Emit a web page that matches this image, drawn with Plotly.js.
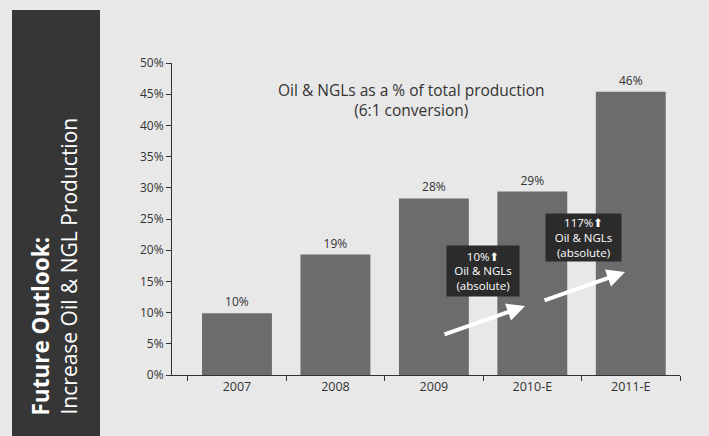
<!DOCTYPE html>
<html>
<head>
<meta charset="utf-8">
<script src="https://cdn.plot.ly/plotly-3.0.1.min.js"></script>
<style>html,body{margin:0;padding:0;background:#e9e9e9;}#chart{width:709px;height:436px;}</style>
</head>
<body>
<div id="chart"></div>
<script>
// Data
const categories = ["2007", "2008", "2009", "2010-E", "2011-E"];
const oilNglShare = [9.9, 19.3, 28.3, 29.4, 45.4];
const barLabels = ["10%", "19%", "28%", "29%", "46%"];
const yTickVals = [0, 5, 10, 15, 20, 25, 30, 35, 40, 45, 50];
const yTickText = ["0%", "5%", "10%", "15%", "20%", "25%", "30%", "35%", "40%", "45%", "50%"];
const chartTitle = "Oil &amp; NGLs as a % of total production<br>(6:1 conversion)";
const sideTitle = "Future Outlook:";
const sideSubtitle = "Increase Oil &amp; NGL Production";
const callout2010 = "10%\u2B06<br>Oil &amp; NGLs<br>(absolute)";
const callout2011 = "117%\u2B06<br>Oil &amp; NGLs<br>(absolute)";

const font = "Open Sans, DejaVu Sans, sans-serif";

const trace = {
  type: "bar",
  x: categories,
  y: oilNglShare,
  text: barLabels,
  textposition: "outside",
  cliponaxis: false,
  textfont: {family: font, size: 12, color: "#333"},
  marker: {color: "#6c6c6c"},
  hoverinfo: "skip"
};

function px(x) { return (x - 172) / 508; }
function py(y) { return (375 - y) / 312; }

const layout = {
  width: 709, height: 436,
  margin: {l: 172, r: 29, t: 63, b: 61},
  paper_bgcolor: "#e8e8e8",
  plot_bgcolor: "#e8e8e8",
  bargap: 0.29,
  showlegend: false,
  font: {family: font, color: "#333"},
  xaxis: {
    type: "category",
    range: [-0.66, 4.5],
    tickson: "boundaries",
    ticks: "outside", ticklen: 5, tickcolor: "#333",
    showline: true, linecolor: "#333", linewidth: 1,
    showgrid: false, zeroline: false,
    tickfont: {family: font, size: 12.5, color: "#333"}
  },
  yaxis: {
    range: [0, 50],
    tickvals: yTickVals, ticktext: yTickText,
    ticks: "outside", ticklen: 5, tickcolor: "#333",
    showline: true, linecolor: "#333", linewidth: 1,
    showgrid: false, zeroline: false,
    tickfont: {family: font, size: 12, color: "#333"}
  },
  shapes: [{
    type: "rect", xref: "paper", yref: "paper",
    x0: px(12), x1: px(100),
    y0: py(440), y1: py(10),
    fillcolor: "#363636", line: {width: 0}, layer: "above"
  }],
  annotations: [
    {xref: "paper", yref: "paper", x: px(411), y: py(100), xanchor: "center", yanchor: "middle",
     text: chartTitle, showarrow: false,
     font: {family: font, size: 15.5, color: "#333"}, align: "center"},
    {xref: "paper", yref: "paper", x: px(40), y: py(418), text: "<b>" + sideTitle + "</b>",
     textangle: -90, showarrow: false, xanchor: "center", yanchor: "bottom",
     font: {family: font, size: 22.5, color: "#ffffff"}},
    {xref: "paper", yref: "paper", x: px(68), y: py(417), text: sideSubtitle,
     textangle: -90, showarrow: false, xanchor: "center", yanchor: "bottom",
     font: {family: font, size: 21, color: "#ffffff"}},
    {xref: "paper", yref: "paper", x: px(483), y: py(271), xanchor: "center", yanchor: "middle",
     text: callout2010, showarrow: false, bgcolor: "#2b2b2b", width: 70, height: 48,
     font: {family: font, size: 11.5, color: "#ffffff"}, align: "center"},
    {xref: "paper", yref: "paper", x: px(583), y: py(237), xanchor: "center", yanchor: "middle",
     text: callout2011, showarrow: false, bgcolor: "#2b2b2b", width: 73, height: 45,
     font: {family: font, size: 11.5, color: "#ffffff"}, align: "center"},
    {xref: "paper", yref: "paper", x: px(525), y: py(306), text: "",
     showarrow: true, axref: "pixel", ayref: "pixel", ax: -82, ay: 29,
     arrowcolor: "#ffffff", arrowwidth: 4, arrowhead: 2, arrowsize: 0.9},
    {xref: "paper", yref: "paper", x: px(625), y: py(272), text: "",
     showarrow: true, axref: "pixel", ayref: "pixel", ax: -82, ay: 29,
     arrowcolor: "#ffffff", arrowwidth: 4, arrowhead: 2, arrowsize: 0.9}
  ]
};

Plotly.newPlot("chart", [trace], layout, {displayModeBar: false, staticPlot: true});
</script>
</body>
</html>
